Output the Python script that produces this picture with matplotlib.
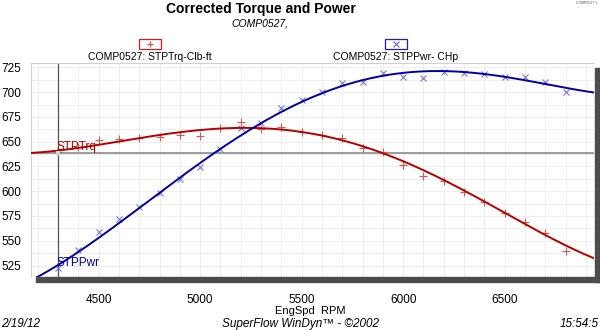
import matplotlib.pyplot as plt
import numpy as np
from matplotlib.patches import Rectangle

plt.rcParams['font.family'] = ['Liberation Sans', 'DejaVu Sans']

W, H = 600, 330

# dyno run COMP0527, one sample every 100 rpm
rpm = [4300, 4400, 4500, 4600, 4700, 4800, 4900, 5000, 5100, 5200, 5300, 5400, 5500,
       5600, 5700, 5800, 5900, 6000, 6100, 6200, 6300, 6400, 6500, 6600, 6700, 6800]
torque = [639.5, 645, 652, 652.5, 653.5, 654.5, 657, 656, 663.5, 670, 662.5, 664.5, 660,
          657, 653.5, 644, 639.5, 626.5, 615, 610, 599, 589, 578, 569, 558, 540]
power = [522.5, 540.5, 558.5, 572, 584.5, 598, 612.5, 624.5, 643, 664, 668.5, 684, 692,
         700.5, 709.5, 710.5, 719, 715.5, 714.5, 720, 719, 718, 715.5, 715.5, 710.5, 700]

# smoothed trend lines (values along the fitted curves)
trq_curve_rpm = [4167, 4300, 4500, 4600, 5000, 5200, 5400, 5500, 5800, 5900, 6000,
                 6200, 6300, 6500, 6700, 6800, 6940]
trq_curve = [639, 640, 647.5, 651, 661, 663.6, 662, 660.3, 645, 640, 632,
             609.7, 599, 578, 557.5, 545.7, 531.6]
pwr_curve_rpm = [4192, 4300, 4500, 4800, 5000, 5200, 5400, 5500, 5700, 5900, 6100,
                 6200, 6400, 6600, 6800, 6940]
pwr_curve = [513, 523.5, 556.5, 596.5, 626.5, 657, 680.5, 692, 706.5, 716.5, 720,
             720.5, 718, 714, 704, 699.5]

yticks = [525, 550, 575, 600, 625, 650, 675, 700, 725]
xticks = [4500, 5000, 5500, 6000, 6500]
cursor_rpm = 4300
cursor_trq = 639

red_line, red_pt = '#b50000', '#e05555'
blue_line, blue_pt = '#0000a5', '#7a7acc'


def fx(x):
    return x / W


def fy(y):
    return 1 - y / H


fig = plt.figure(figsize=(6, 3.3), dpi=100)
ax = fig.add_axes([fx(31), fy(277), (594 - 31) / W, (277 - 63) / H])

xlo, xhi = 4167, 6940
ax.set_xlim(xlo, xhi)
ax.set_ylim(513.4, 729.5)

xs = np.linspace(xlo, xhi, 400)
trq_fit = np.polynomial.Polynomial.fit(trq_curve_rpm, trq_curve, 5)
pwr_fit = np.polynomial.Polynomial.fit(pwr_curve_rpm, pwr_curve, 5)

ax.plot(xs, trq_fit(xs), color=red_line, lw=1.4, zorder=4)
ax.plot(xs, pwr_fit(xs), color=blue_line, lw=1.4, zorder=4)
ax.plot(rpm, torque, ls='none', marker='+', ms=5.5, mew=0.8, color=red_pt, zorder=3)
ax.plot(rpm, power, ls='none', marker='x', ms=4.5, mew=0.8, color=blue_pt, zorder=3)

# cursor cross-hair
ax.axvline(cursor_rpm, color='#505050', lw=0.9, zorder=2)
ax.axhline(cursor_trq, color='#808080', lw=1.1, zorder=2)
ax.plot([cursor_rpm], [cursor_trq], marker='s', ms=2.5, color='#a0e8e8', mew=0, zorder=5)
ax.text(cursor_rpm - 8, 641.5, 'STPTrq', color=red_line, fontsize=8.5, va='baseline', zorder=6)
ax.text(cursor_rpm - 8, 524.5, 'STPPwr', color=blue_line, fontsize=8.5, va='baseline', zorder=6)

ax.set_xticks(xticks)
ax.set_yticks(yticks)
ax.set_xticks(np.arange(4200, 6940, 100), minor=True)
ax.set_yticks(np.arange(525, 729, 12.5), minor=True)
ax.grid(which='both', color='#eeeeee', lw=0.7)
ax.set_axisbelow(True)
ax.tick_params(which='both', length=0, labelsize=8.5)
ax.tick_params(axis='y', pad=7)
ax.tick_params(axis='x', pad=12)
for side in ['right', 'bottom']:
    ax.spines[side].set_visible(False)
for side in ['left', 'top']:
    ax.spines[side].set_color('#d0d0d0')
    ax.spines[side].set_linewidth(0.8)

# drop shadow along the bottom and right of the plot frame
fig.patches.append(Rectangle((fx(36), fy(282)), (600 - 36) / W, 5 / H,
                             transform=fig.transFigure, color='#4d4d4d', zorder=10))
fig.patches.append(Rectangle((fx(595), fy(282)), 5 / W, (282 - 68) / H,
                             transform=fig.transFigure, color='#4d4d4d', zorder=10))

fig.text(fx(261), fy(8.5), 'Corrected Torque and Power', fontsize=10, fontweight='bold',
         ha='center', va='center')
fig.text(fx(260), fy(23), 'COMP0527,', fontsize=7.5, style='italic', ha='center', va='center')

# legend swatches with series names underneath
for cx, mk, ec, mc, name in [(150, '+', '#d02020', red_pt, 'COMP0527: STPTrq-Clb-ft'),
                             (395.5, 'x', '#2020b0', blue_pt, 'COMP0527: STPPwr- CHp')]:
    fig.patches.append(Rectangle((fx(cx - 11), fy(49)), 22 / W, 10 / H,
                                 transform=fig.transFigure, fill=False, ec=ec, lw=0.9))
    fig.lines.append(plt.Line2D([fx(cx)], [fy(44)], marker=mk, ms=5, mew=0.9, color=mc,
                                transform=fig.transFigure))
    fig.text(fx(cx), fy(57.5), name, fontsize=7.5, ha='center', va='center')

fig.text(fx(310), fy(311), 'EngSpd  RPM', fontsize=8, ha='center', va='center')
fig.text(fx(301), fy(324), 'SuperFlow WinDyn\u2122 - \u00a92002', fontsize=8.5, style='italic',
         ha='center', va='center')
fig.text(fx(1), fy(324), '2/19/12', fontsize=8.5, style='italic', ha='left', va='center')
fig.text(fx(599), fy(324), '15:54:5', fontsize=8.5, style='italic', ha='right', va='center')
fig.text(fx(587), fy(3), 'COMP0527 1', fontsize=2.5, ha='center', va='center', color='#555555')

fig.savefig('out.png', dpi=100)
